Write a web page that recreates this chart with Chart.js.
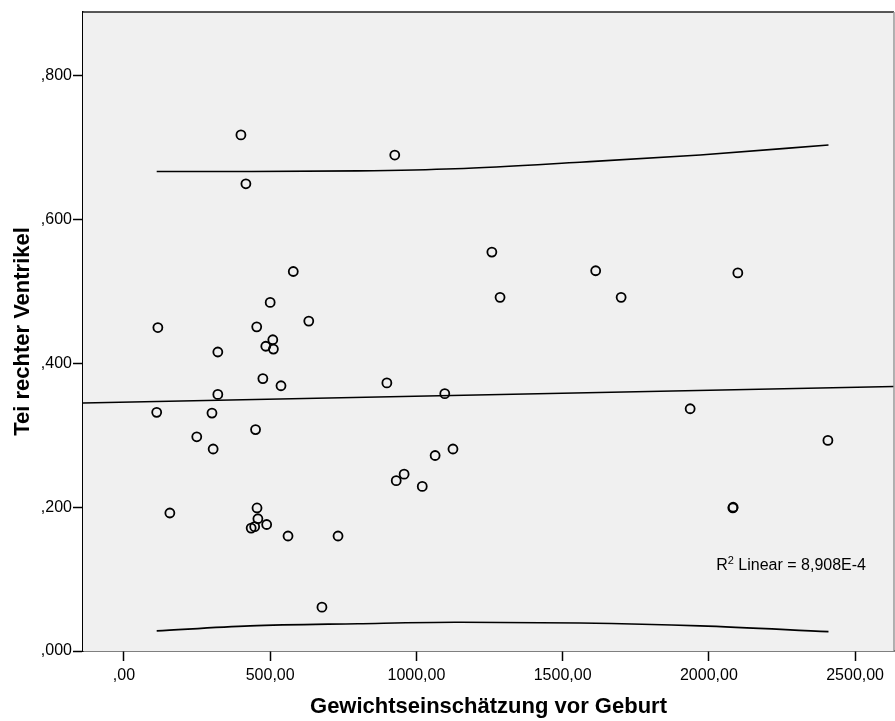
<!DOCTYPE html>
<html>
<head>
<meta charset="utf-8">
<script src="https://cdn.jsdelivr.net/npm/chart.js@4.4.1/dist/chart.umd.min.js"></script>
<style>
  html, body { margin: 0; padding: 0; background: #fff; }
  #wrap { width: 895px; height: 721px; position: relative; }
</style>
</head>
<body>
<div id="wrap"><canvas id="scatterChart"></canvas></div>
<script>
// Gewichtseinschätzung vor Geburt (x) gegen Tei-Index rechter Ventrikel (y)
var weightEstimate = [400, 417, 926, 1258, 1286, 1613, 1700, 2099, 579, 500,
                      116, 454, 632, 509, 485, 511, 321, 475, 537, 321,
                      899, 1097, 1936, 112, 301, 450, 249, 305, 2407, 1125,
                      1064, 958, 931, 1020, 157, 455, 458, 488, 435, 447,
                      561, 732, 677, 2082, 2083];
var teiRight = [0.718, 0.650, 0.690, 0.555, 0.492, 0.529, 0.492, 0.526, 0.528, 0.485,
                0.450, 0.451, 0.459, 0.433, 0.424, 0.420, 0.416, 0.379, 0.369, 0.357,
                0.373, 0.358, 0.337, 0.332, 0.331, 0.308, 0.298, 0.281, 0.293, 0.281,
                0.272, 0.246, 0.237, 0.229, 0.192, 0.199, 0.184, 0.176, 0.171, 0.173,
                0.160, 0.160, 0.061, 0.199, 0.200];

// linear fit line, spans the whole x range
var fitX = [-140, 2633];
var fitY = [0.345, 0.368];

// 95% interval curves
var bandX = [112, 431, 800, 1132, 1559, 1970, 2409];
var bandUpper = [0.667, 0.667, 0.668, 0.671, 0.680, 0.690, 0.704];
var bandLower = [0.028, 0.035, 0.038, 0.040, 0.039, 0.035, 0.027];

var xTicks = [0, 500, 1000, 1500, 2000, 2500];
var xTickLabels = [",00", "500,00", "1000,00", "1500,00", "2000,00", "2500,00"];
var yTicks = [0, 0.2, 0.4, 0.6, 0.8];
var yTickLabels = [",000", ",200", ",400", ",600", ",800"];

var r2Label = "Linear = 8,908E-4";

var FONT = "'Liberation Sans', Arial, sans-serif";

function toPoints(xs, ys) {
    return xs.map(function (x, i) { return { x: x, y: ys[i] }; });
}

var plotFrame = {
    id: "plotFrame",
    beforeDatasetsDraw: function (chart) {
        var a = chart.chartArea, c = chart.ctx;
        c.save();
        c.fillStyle = "#f0f0f0";
        c.fillRect(a.left, a.top, a.right - a.left, a.bottom - a.top);
        c.restore();
    },
    afterDraw: function (chart) {
        var a = chart.chartArea, c = chart.ctx;
        c.save();
        c.lineWidth = 1.5;
        c.strokeStyle = "#222";
        c.beginPath();
        c.moveTo(a.left, a.top);
        c.lineTo(a.right, a.top);
        c.stroke();
        c.strokeStyle = "#999";
        c.beginPath();
        c.moveTo(a.right, a.top);
        c.lineTo(a.right, a.bottom);
        c.stroke();

        // R² annotation
        c.fillStyle = "#000";
        c.textBaseline = "alphabetic";
        c.textAlign = "right";
        var x = a.right - 28, y = a.bottom - 81;
        c.font = "16px " + FONT;
        var wMain = c.measureText(" " + r2Label).width;
        c.fillText(" " + r2Label, x, y);
        c.font = "11px " + FONT;
        var wSup = c.measureText("2").width;
        c.fillText("2", x - wMain, y - 6);
        c.font = "16px " + FONT;
        c.fillText("R", x - wMain - wSup, y);
        c.restore();
    }
};

var ctx = document.getElementById("scatterChart").getContext("2d");

var myChart = new Chart(ctx, {
    type: "scatter",
    data: {
        datasets: [
            {
                label: "Tei rechter Ventrikel",
                data: toPoints(weightEstimate, teiRight),
                pointStyle: "circle",
                pointRadius: 4.5,
                pointBorderWidth: 1.8,
                borderColor: "#000",
                backgroundColor: "rgba(0,0,0,0)",
                order: 1
            },
            {
                label: "Linear",
                type: "line",
                data: toPoints(fitX, fitY),
                borderColor: "#000",
                borderWidth: 1.6,
                pointRadius: 0,
                fill: false,
                order: 2
            },
            {
                label: "Upper",
                type: "line",
                data: toPoints(bandX, bandUpper),
                borderColor: "#000",
                borderWidth: 1.6,
                pointRadius: 0,
                cubicInterpolationMode: "monotone",
                fill: false,
                order: 2
            },
            {
                label: "Lower",
                type: "line",
                data: toPoints(bandX, bandLower),
                borderColor: "#000",
                borderWidth: 1.6,
                pointRadius: 0,
                cubicInterpolationMode: "monotone",
                fill: false,
                order: 2
            }
        ]
    },
    options: {
        responsive: true,
        maintainAspectRatio: false,
        animation: false,
        layout: {
            autoPadding: false,
            padding: { top: 12, right: 1, left: 0, bottom: 0 }
        },
        plugins: {
            legend: { display: false },
            tooltip: { enabled: false }
        },
        scales: {
            x: {
                type: "linear",
                min: -140,
                max: 2633,
                afterBuildTicks: function (scale) {
                    scale.ticks = xTicks.map(function (v) { return { value: v }; });
                },
                afterFit: function (scale) {
                    scale.height = 70;
                    scale.paddingLeft = 0;
                    scale.paddingRight = 0;
                },
                ticks: {
                    color: "#000",
                    padding: 5,
                    maxRotation: 0,
                    font: { family: FONT, size: 16 },
                    callback: function (value) {
                        var i = xTicks.indexOf(value);
                        return i >= 0 ? xTickLabels[i] : "";
                    }
                },
                grid: {
                    drawOnChartArea: false,
                    color: "#000",
                    tickLength: 10,
                    tickWidth: 1.5
                },
                border: { display: true, color: "#000", width: 1.5 },
                title: {
                    display: true,
                    text: "Gewichtseinschätzung vor Geburt",
                    color: "#000",
                    font: { family: FONT, size: 22, weight: "bold" },
                    padding: { top: 0, bottom: 1 }
                }
            },
            y: {
                type: "linear",
                min: 0,
                max: 0.889,
                afterBuildTicks: function (scale) {
                    scale.ticks = yTicks.map(function (v) { return { value: v }; });
                },
                afterFit: function (scale) {
                    scale.width = 83;
                    scale.paddingTop = 0;
                    scale.paddingBottom = 0;
                },
                ticks: {
                    color: "#000",
                    padding: 1,
                    font: { family: FONT, size: 16 },
                    callback: function (value) {
                        for (var i = 0; i < yTicks.length; i++) {
                            if (Math.abs(yTicks[i] - value) < 1e-9) return yTickLabels[i];
                        }
                        return "";
                    }
                },
                grid: {
                    drawOnChartArea: false,
                    color: "#000",
                    tickLength: 10,
                    tickWidth: 1.5
                },
                border: { display: true, color: "#000", width: 1.5 },
                title: {
                    display: true,
                    text: "Tei rechter Ventrikel",
                    color: "#000",
                    font: { family: FONT, size: 22, weight: "bold" },
                    padding: { top: 10, bottom: 0 }
                }
            }
        }
    },
    plugins: [plotFrame]
});
</script>
</body>
</html>
